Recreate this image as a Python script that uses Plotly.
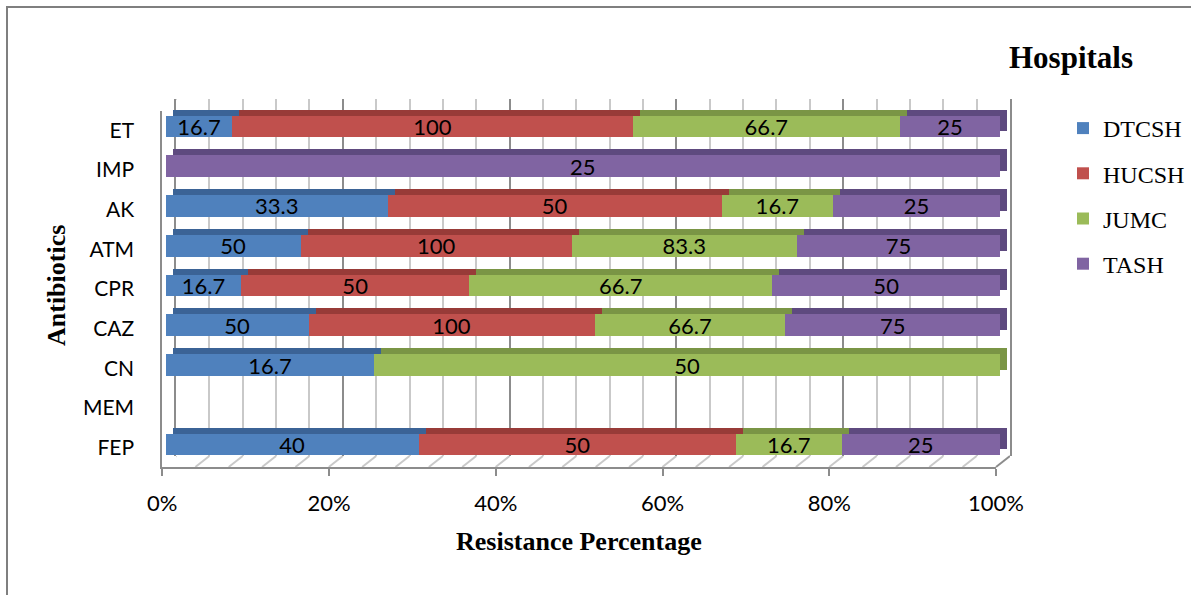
import plotly.graph_objects as go

# Antibiotics (top to bottom) and resistance values per hospital
antibiotics = ["ET", "IMP", "AK", "ATM", "CPR", "CAZ", "CN", "MEM", "FEP"]
hospitals = ["DTCSH", "HUCSH", "JUMC", "TASH"]
dtcsh = [16.7, 0, 33.3, 50, 16.7, 50, 16.7, 0, 40]
hucsh = [100, 0, 50, 100, 50, 100, 0, 0, 50]
jumc = [66.7, 0, 16.7, 83.3, 66.7, 66.7, 50, 0, 16.7]
tash = [25, 25, 25, 75, 50, 75, 0, 0, 25]
x_ticks = [0, 20, 40, 60, 80, 100]
x_tick_labels = ["0%", "20%", "40%", "60%", "80%", "100%"]

series = [dtcsh, hucsh, jumc, tash]
face_colors = ["#4F81BD", "#C0504D", "#9BBB59", "#8064A2"]
depth_colors = ["#3B6396", "#983B38", "#7A9545", "#5E4A7F"]

W, H = 1191, 595
GRID_LIGHT = "#c9c9c9"
GRID_DARK = "#8c8c8c"
SANS = "Lato, Open Sans, sans-serif"
SERIF = "Liberation Serif, Times New Roman, serif"


def px_x(a, b):
    return [a / W, b / W]


def px_y(top, bottom):
    return [1 - bottom / H, 1 - top / H]


def fmt(v):
    return f"{v:g}" if v else ""


fig = go.Figure()

# extruded depth of each bar segment (drawn behind the faces)
for name, vals, dark in zip(hospitals, series, depth_colors):
    fig.add_trace(go.Bar(
        y=antibiotics, x=vals, orientation="h", xaxis="x2", yaxis="y2",
        marker=dict(color=dark, line=dict(width=0)), width=0.55,
        showlegend=False, hoverinfo="skip",
    ))

# front faces with value labels
for name, vals, col in zip(hospitals, series, face_colors):
    fig.add_trace(go.Bar(
        y=antibiotics, x=vals, orientation="h", xaxis="x3", yaxis="y3",
        name=name, legendgroup=name,
        marker=dict(color=col, line=dict(width=0)), width=0.55,
        text=[fmt(v) for v in vals], textposition="inside",
        insidetextanchor="middle", textangle=0,
        textfont=dict(family=SANS, size=22, color="black"),
    ))

# empty trace so the front-edge axes (x4/y4) get their own subplot
fig.add_trace(go.Scatter(x=[None], y=[None], xaxis="x4", yaxis="y4",
                         mode="markers", showlegend=False, hoverinfo="skip"))

hidden = dict(showgrid=False, zeroline=False, showticklabels=False, ticks="",
              showline=False, automargin=False)

fig.update_layout(
    template="none",
    width=W, height=H, autosize=False,
    margin=dict(l=0, r=0, t=0, b=0, pad=0),
    paper_bgcolor="white", plot_bgcolor="rgba(0,0,0,0)",
    barmode="stack", barnorm="percent", bargap=0.45,
    uniformtext=dict(minsize=22, mode="show"),
    # back wall with gridlines every 4 %
    xaxis=dict(domain=px_x(176, 1010), range=[0, 100], anchor="y",
               showgrid=True, gridcolor=GRID_DARK, gridwidth=2, dtick=20,
               minor=dict(dtick=4, showgrid=True, gridcolor=GRID_LIGHT, gridwidth=2),
               zeroline=False, showticklabels=False, ticks="", showline=False,
               automargin=False),
    yaxis=dict(domain=px_y(99, 456), range=[0, 1], anchor="x",
               showgrid=False, zeroline=False, showticklabels=False, ticks="",
               showline=True, mirror=True, linecolor=GRID_DARK, linewidth=2,
               automargin=False),
    # bar depth
    xaxis2=dict(domain=px_x(172.5, 1007), range=[0, 100], anchor="y2", **hidden),
    yaxis2=dict(domain=px_y(100.6, 458.4), anchor="x2", autorange="reversed",
                type="category", **hidden),
    # bar faces
    xaxis3=dict(domain=px_x(165.5, 1000), range=[0, 100], anchor="y3", **hidden),
    yaxis3=dict(domain=px_y(106.6, 464.4), anchor="x3", autorange="reversed",
                type="category", **hidden),
    # front floor edge with percentage ticks, left edge with category labels
    xaxis4=dict(domain=px_x(162.3, 996), range=[0, 100], anchor="y4",
                tickmode="array", tickvals=x_ticks, ticktext=x_tick_labels,
                ticks="outside", ticklen=7, tickwidth=2, tickcolor=GRID_DARK,
                ticklabelstandoff=8,
                tickfont=dict(family=SANS, size=22, color="black"),
                showline=True, linecolor=GRID_DARK, linewidth=2,
                showgrid=False, zeroline=False, automargin=False),
    yaxis4=dict(domain=px_y(110.5, 467.3), range=[len(antibiotics) - 0.5, -0.5],
                anchor="x4", tickmode="array",
                tickvals=list(range(len(antibiotics))), ticktext=antibiotics,
                ticks="", ticklabelstandoff=22,
                tickfont=dict(family=SANS, size=21, color="black"),
                showline=True, linecolor=GRID_DARK, linewidth=2,
                showgrid=False, zeroline=False, automargin=False),
    legend=dict(x=1063 / W, y=1 - 106 / H, xanchor="left", yanchor="top",
                traceorder="grouped", tracegroupgap=11,
                font=dict(family=SERIF, size=24, color="black"),
                bgcolor="rgba(0,0,0,0)", borderwidth=0),
    showlegend=True,
)

shapes = []
# floor: diagonals from the front edge to the back wall every 4 %
for v in range(0, 101, 4):
    edge = v in (0, 100)
    shapes.append(dict(
        type="line", layer="below",
        xref="x", xsizemode="pixel", xanchor=v, x0=-14, x1=0,
        yref="y domain", ysizemode="pixel", yanchor=0, y0=-11, y1=0,
        line=dict(color=GRID_DARK if edge else GRID_LIGHT, width=2),
    ))
# top edge of the side wall
shapes.append(dict(
    type="line", layer="below",
    xref="x", xsizemode="pixel", xanchor=0, x0=-14, x1=0,
    yref="y domain", ysizemode="pixel", yanchor=1, y0=-11, y1=0,
    line=dict(color=GRID_DARK, width=2),
))
# outer chart frame
shapes.append(dict(
    type="rect", xref="paper", yref="paper",
    x0=7 / W, x1=1.02, y0=-0.02, y1=1 - 7 / H,
    line=dict(color="#7f7f7f", width=2), fillcolor="rgba(0,0,0,0)",
))
fig.update_layout(shapes=shapes)

fig.add_annotation(text="<b>Hospitals</b>", xref="paper", yref="paper",
                   x=1071 / W, y=1 - 58 / H, xanchor="center", yanchor="middle",
                   showarrow=False, font=dict(family=SERIF, size=31, color="black"))
fig.add_annotation(text="<b>Resistance Percentage</b>", xref="paper", yref="paper",
                   x=579 / W, y=1 - 541 / H, xanchor="center", yanchor="middle",
                   showarrow=False, font=dict(family=SERIF, size=26, color="black"))
fig.add_annotation(text="<b>Antibiotics</b>", xref="paper", yref="paper",
                   x=56 / W, y=1 - 286 / H, xanchor="center", yanchor="middle",
                   textangle=-90, showarrow=False,
                   font=dict(family=SERIF, size=26, color="black"))

fig.write_html("out.html")
